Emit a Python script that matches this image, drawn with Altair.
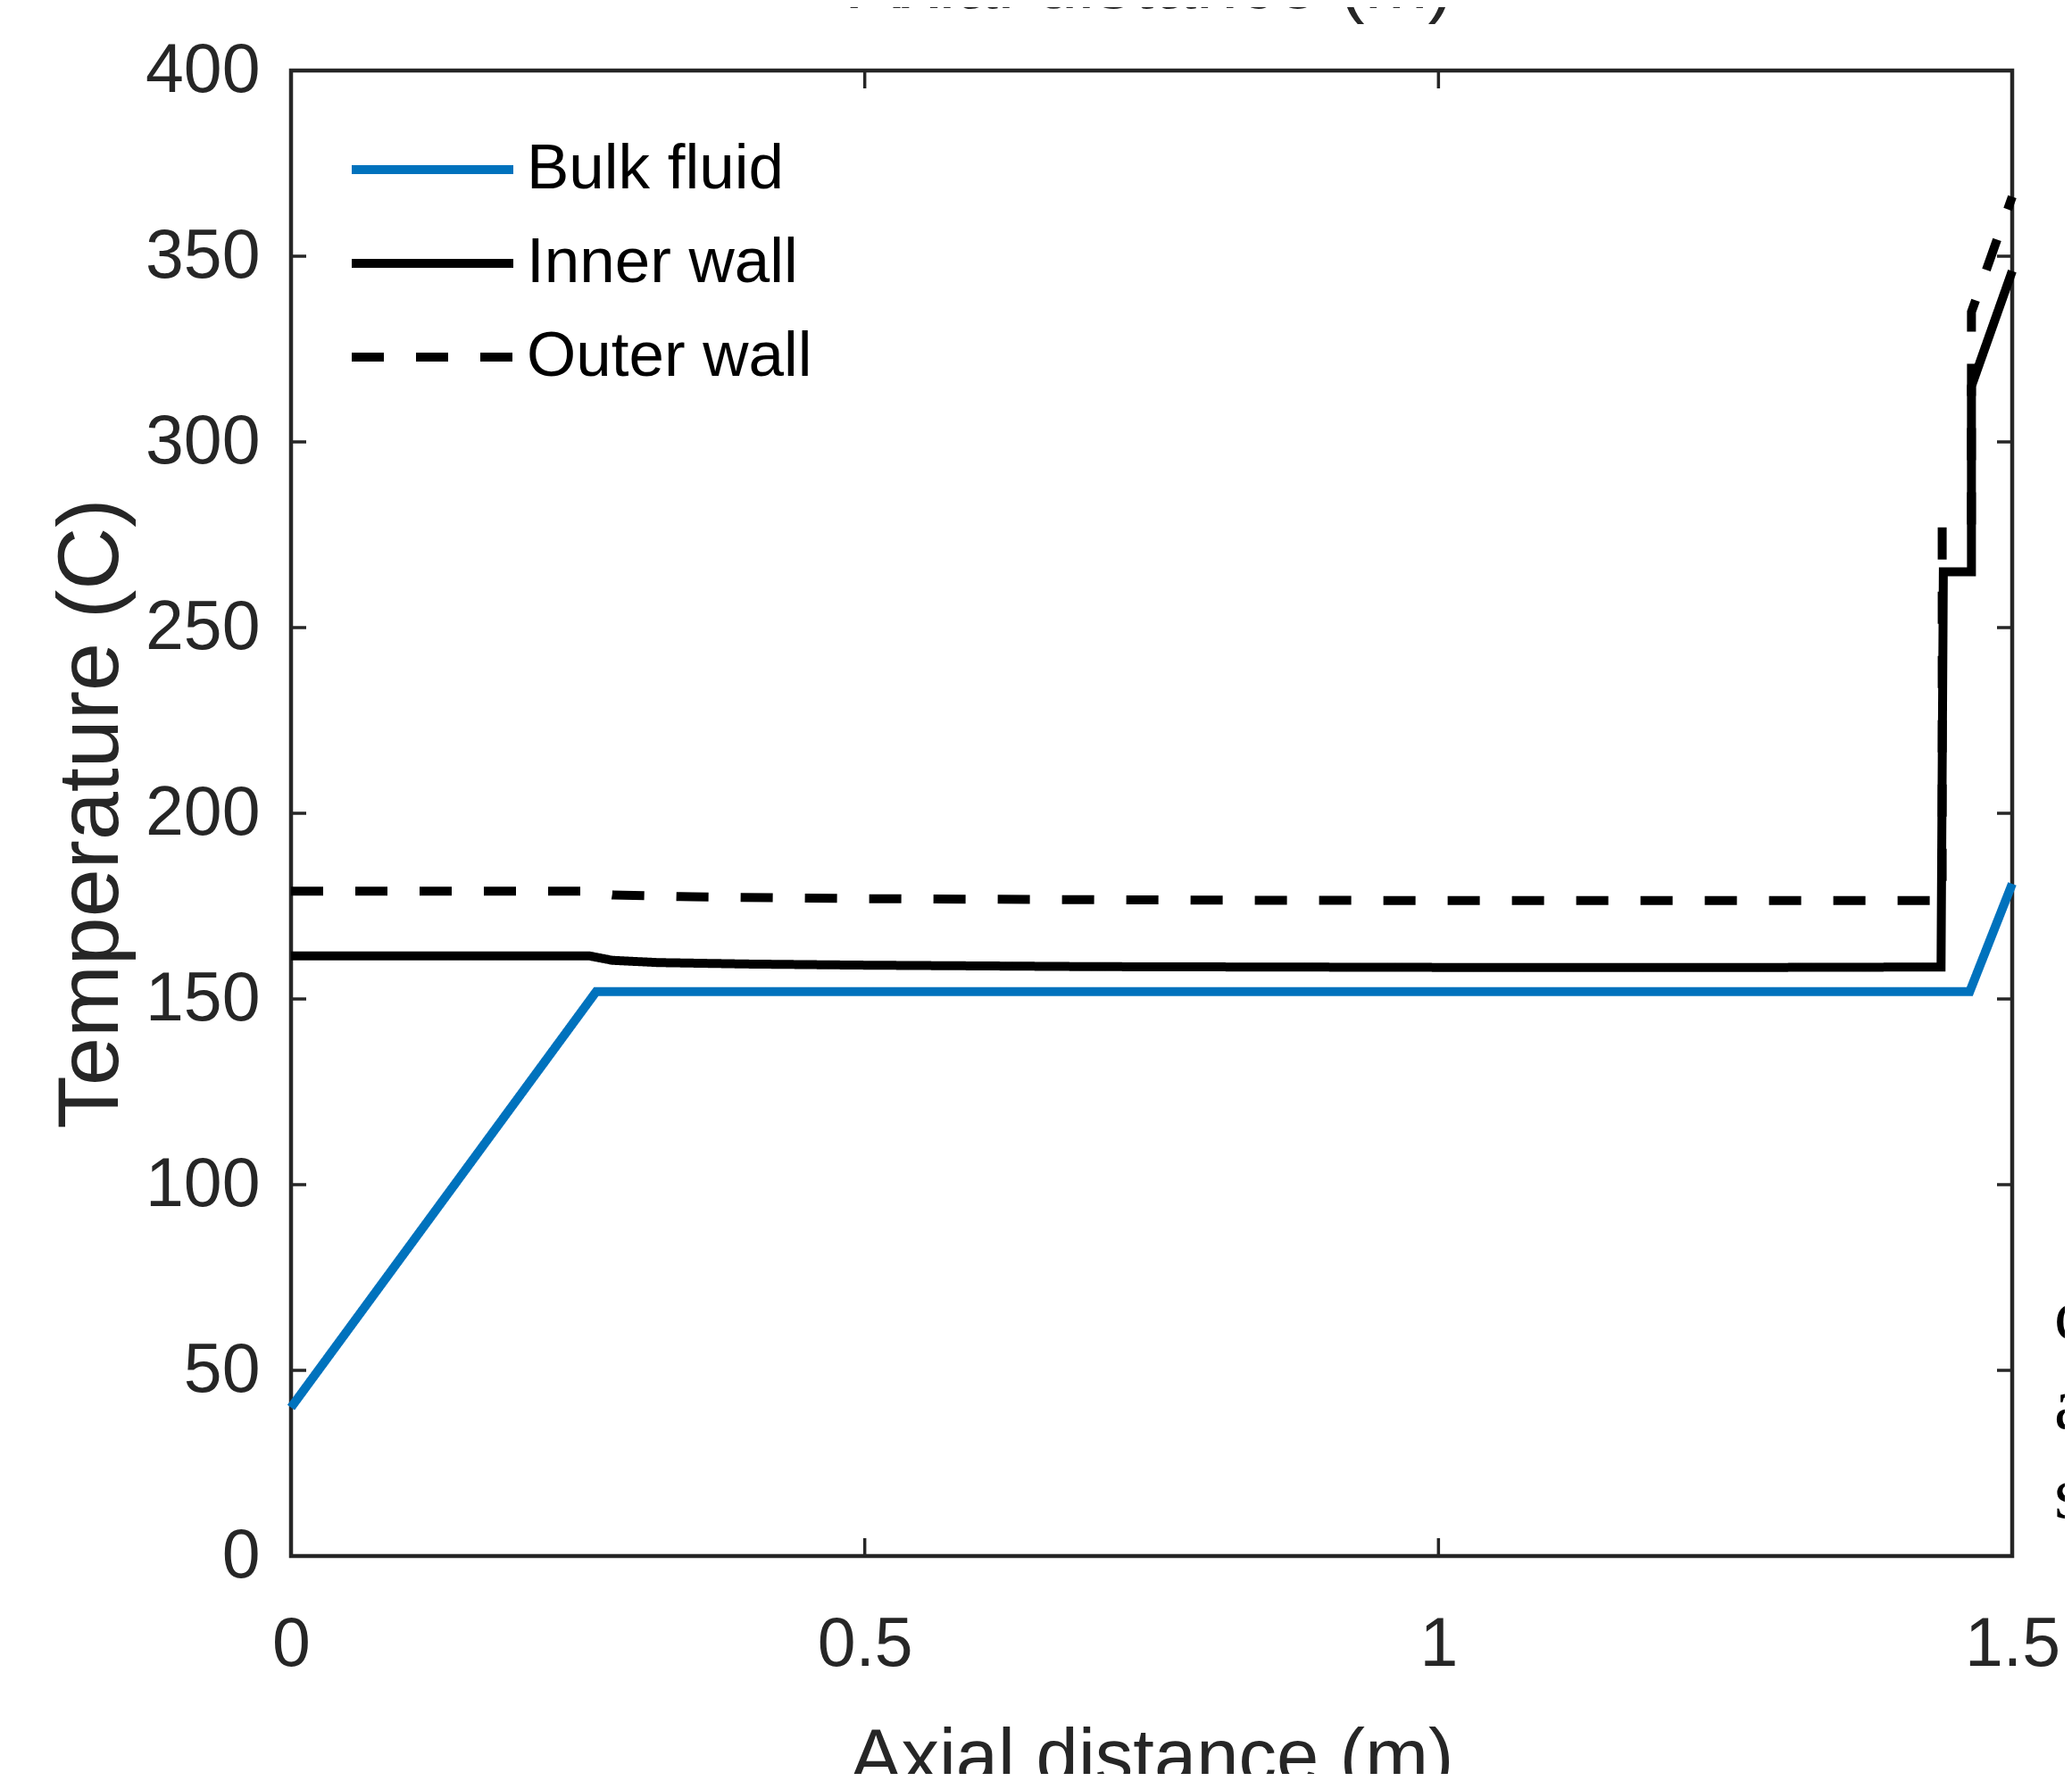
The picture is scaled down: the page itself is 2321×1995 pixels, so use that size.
import altair as alt
import pandas as pd

# ---------------- data ----------------
series_names = ["Bulk fluid", "Inner wall", "Outer wall"]
series_colors = ["#0072BD", "#000000", "#000000"]

bulk_x = [0.0, 0.266, 1.463, 1.5]
bulk_y = [40.0, 152.0, 152.0, 181.0]

inner_x = [0.0, 0.26, 0.28, 0.32, 0.4, 0.5, 0.7, 1.0, 1.3, 1.438, 1.44, 1.4645, 1.4645, 1.5]
inner_y = [161.6, 161.6, 160.4, 159.8, 159.4, 159.1, 158.7, 158.5, 158.5, 158.6, 265.0, 265.0, 315.0, 346.0]

outer_x = [0.0, 0.26, 0.28, 0.35, 0.5, 0.8, 1.0, 1.3, 1.439, 1.439, 1.4645, 1.4645, 1.5]
outer_y = [179.0, 179.0, 178.0, 177.5, 177.0, 176.6, 176.5, 176.5, 176.5, 277.0, 277.0, 335.0, 366.0]

x_tick_labels = [0, 0.5, 1, 1.5]
y_tick_labels = [0, 50, 100, 150, 200, 250, 300, 350, 400]
x_inner_ticks = [0.5, 1.0]
y_inner_ticks = [50, 100, 150, 200, 250, 300, 350]

side_letters = ["c", "a", "s"]

# ---------------- build tables ----------------
rows = []
for name, xs, ys in zip(series_names, [bulk_x, inner_x, outer_x], [bulk_y, inner_y, outer_y]):
    for i, (xv, yv) in enumerate(zip(xs, ys)):
        rows.append({"series": name, "x": xv, "y": yv, "i": i})
df = pd.DataFrame(rows)

W, H = 1928, 1664
SANS = "Liberation Sans, Arial, sans-serif"
AXC = "#262626"

xscale = alt.Scale(domain=[0, 1.5], nice=False, zero=False)
yscale = alt.Scale(domain=[0, 400], nice=False, zero=False)

xaxis = alt.Axis(
    values=x_tick_labels, format="~g", title="Axial distance (m)",
    domain=False, ticks=False, tickSize=0, grid=False,
    labelFont=SANS, labelFontSize=77, labelColor=AXC, labelPadding=122,
    labelBaseline="alphabetic", labelFlush=False, labelOverlap=False,
    titleFont=SANS, titleFontSize=85, titleFontWeight="normal", titleColor=AXC,
    titleX=W / 2, titleY=252, titleBaseline="alphabetic", titleAlign="center",
)
yaxis = alt.Axis(
    values=y_tick_labels, format="d", title="Temperature (C)",
    domain=False, ticks=False, tickSize=0, grid=False,
    labelFont=SANS, labelFontSize=77, labelColor=AXC, labelPadding=35,
    labelAlign="right", labelBaseline="middle", labelFlush=False, labelOverlap=False,
    titleFont=SANS, titleFontSize=97, titleFontWeight="normal", titleColor=AXC,
    titleX=-195, titleY=H / 2, titleAngle=270, titleBaseline="alphabetic", titleAlign="center",
)

legend = alt.Legend(
    title=None, orient="none", legendX=63, legendY=66, padding=0,
    symbolType="stroke", symbolSize=181 * 181, symbolStrokeWidth=10,
    clipHeight=90, rowPadding=15, labelOffset=10,
    labelFont=SANS, labelFontSize=71, labelColor="#000000", labelLimit=2000,
)

lines = alt.Chart(df).mark_line(strokeWidth=10).encode(
    x=alt.X("x:Q", scale=xscale, axis=xaxis),
    y=alt.Y("y:Q", scale=yscale, axis=yaxis),
    color=alt.Color("series:N", scale=alt.Scale(domain=series_names, range=series_colors), legend=legend),
    strokeDash=alt.StrokeDash("series:N", scale=alt.Scale(domain=series_names, range=[[1, 0], [1, 0], [36, 36]]), legend=legend),
    order="i:Q",
)

xt = pd.DataFrame({"v": x_inner_ticks})
yt = pd.DataFrame({"v": y_inner_ticks})
tick_style = dict(color=AXC, strokeWidth=3.5)

xb = alt.Chart(xt).mark_rule(**tick_style).encode(
    x=alt.X("v:Q", scale=xscale, axis=xaxis), y=alt.value(H), y2=alt.value(H - 20))
xtp = alt.Chart(xt).mark_rule(**tick_style).encode(
    x=alt.X("v:Q", scale=xscale, axis=xaxis), y=alt.value(0), y2=alt.value(20))
yl = alt.Chart(yt).mark_rule(**tick_style).encode(
    y=alt.Y("v:Q", scale=yscale, axis=yaxis), x=alt.value(0), x2=alt.value(17))
yr = alt.Chart(yt).mark_rule(**tick_style).encode(
    y=alt.Y("v:Q", scale=yscale, axis=yaxis), x=alt.value(W - 17), x2=alt.value(W))

# fragment of the title of the panel above (cut off at the top edge)
top_frag = alt.Chart(pd.DataFrame({"t": ["Axial distance (m)"]})).mark_text(
    font=SANS, fontSize=85, color=AXC, align="center", baseline="alphabetic"
).encode(text="t:N", x=alt.value(W / 2), y=alt.value(-70))

# fragments of surrounding body text at the right edge
side_layers = []
for letter, ypix in zip(side_letters, [1421, 1521, 1621]):
    side_layers.append(
        alt.Chart(pd.DataFrame({"t": [letter]})).mark_text(
            font="Liberation Serif, serif", fontSize=82, color="#000000",
            align="left", baseline="alphabetic"
        ).encode(text="t:N", x=alt.value(1975), y=alt.value(ypix))
    )

chart = alt.layer(lines, xb, xtp, yl, yr, top_frag, *side_layers).properties(
    width=W, height=H,
    padding={"left": 318, "top": 71, "right": 59, "bottom": 244},
    autosize=alt.AutoSizeParams(type="none"),
    background="white",
).configure_view(stroke=AXC, strokeWidth=4.5)

chart.save("out.html", embed_options={"renderer": "svg", "actions": False})
